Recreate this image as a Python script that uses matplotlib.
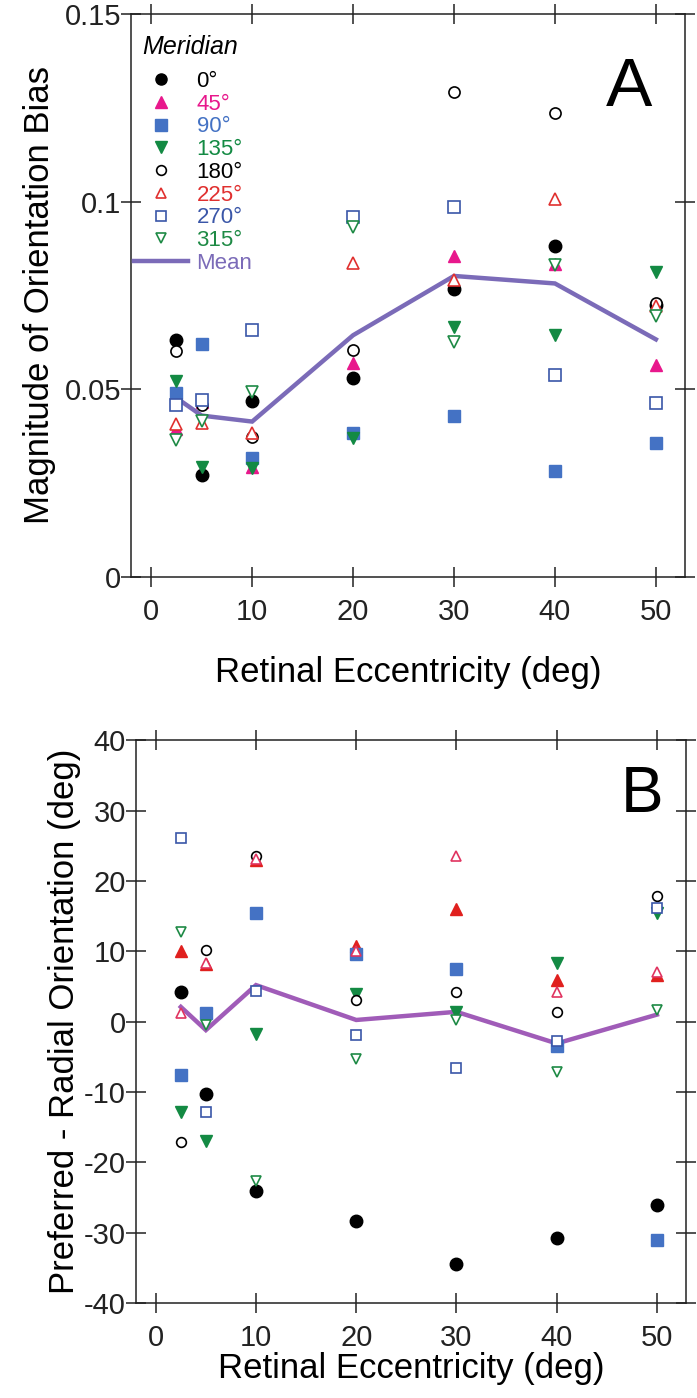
import numpy as np
import matplotlib.pyplot as plt
from matplotlib.lines import Line2D

plt.rcParams['font.family'] = ['Liberation Sans Narrow', 'Liberation Sans', 'DejaVu Sans']
plt.rcParams['axes.unicode_minus'] = False

ecc = [2.5, 5, 10, 20, 30, 40, 50]
meridians = ['0°', '45°', '90°', '135°', '180°', '225°', '270°', '315°']

# magnitude of orientation bias (panel A)
mag_0 = [0.0631, 0.0272, 0.0470, 0.0529, 0.0767, 0.0882, 0.0725]
mag_45 = [0.0395, 0.0465, 0.0292, 0.0569, 0.0856, 0.0835, 0.0565]
mag_90 = [0.0489, 0.0622, 0.0316, 0.0383, 0.0429, 0.0283, 0.0356]
mag_135 = [0.0523, 0.0294, 0.0289, 0.0369, 0.0667, 0.0644, 0.0813]
mag_180 = [0.0602, 0.0458, 0.0372, 0.0605, 0.1292, 0.1237, 0.0730]
mag_225 = [0.0407, 0.0411, 0.0384, 0.0837, 0.0791, 0.1008, 0.0722]
mag_270 = [0.0458, 0.0471, 0.0658, 0.0958, 0.0986, 0.0538, 0.0464]
mag_315 = [0.0365, 0.0416, 0.0492, 0.0933, 0.0627, 0.0831, 0.0695]
mag_mean = [0.0477, 0.0430, 0.0414, 0.0644, 0.0802, 0.0782, 0.0633]

# preferred - radial orientation (panel B)
ori_0 = [4.2, -10.3, -24.1, -28.4, -34.5, -30.7, -26.1]
ori_45 = [10.1, 8.2, 23.0, 10.8, 16.0, 5.9, 6.6]
ori_90 = [-7.6, 1.3, 15.5, 9.6, 7.45, -3.5, -31.1]
ori_135 = [-12.8, -17.0, -1.75, 3.9, 1.4, 8.3, 15.4]
ori_180 = [-17.1, 10.2, 23.6, 3.1, 4.2, 1.4, 17.9]
ori_225 = [1.3, 8.4, 23.1, 10.1, 23.5, 4.2, 7.1]
ori_270 = [26.1, -12.8, 4.3, -1.9, -6.6, -2.75, 16.1]
ori_315 = [12.8, -0.5, -22.6, -5.3, 0.24, -7.1, 1.6]
ori_mean = [2.1, -1.2, 5.2, 0.24, 1.4, -3.1, 1.0]

yticks_a = [0, 0.05, 0.1, 0.15]
yticklabels_a = ['0', '0.05', '0.1', '0.15']
yticks_b = [-40, -30, -20, -10, 0, 10, 20, 30, 40]
xticks = [0, 10, 20, 30, 40, 50]

markers = ['o', '^', 's', 'v', 'o', '^', 's', 'v']
filled = [True, True, True, True, False, False, False, False]
colors_a = ['black', '#E8188C', '#4472C4', '#138A43', 'black', '#E0302F', '#3A56A8', '#1E8A45']
colors_b = ['black', '#E0201E', '#4472C4', '#138A43', 'black', '#E03460', '#3A56A8', '#1E8A45']
mean_a_color = '#7B6BB8'
mean_b_color = '#A05CB8'


def draw(ax, series, colors, mean, mean_color, ms_f, ms_o):
    ax.plot(ecc, mean, color=mean_color, lw=3.2, zorder=1.5, solid_joinstyle='miter')
    for vals, mk, fl, col in zip(series, markers, filled, colors):
        if fl:
            ax.plot(ecc, vals, ls='none', marker=mk, ms=ms_f, mfc=col, mec=col, zorder=2)
        else:
            ax.plot(ecc, vals, ls='none', marker=mk, ms=ms_o, mfc='white', mec=col,
                    mew=1.2, zorder=2)


def style(ax, xpad):
    ax.set_xlim(-2, 52.9)
    ax.set_xticks(xticks)
    ax.tick_params(direction='inout', length=14, width=1.1, top=True, right=True,
                   labelsize=21, colors='#222222')
    ax.tick_params(axis='x', pad=8)
    ax.tick_params(axis='y', pad=0)
    for s in ax.spines.values():
        s.set_linewidth(1.1)
        s.set_color('#222222')
    ax.set_xlabel('Retinal Eccentricity (deg)', fontsize=25, labelpad=xpad)


fig = plt.figure(figsize=(6.97, 13.98), dpi=100)
axA = fig.add_axes([0.188, 0.5873, 0.795, 0.4027])
axB = fig.add_axes([0.1947, 0.068, 0.7895, 0.4024])

draw(axA, [mag_0, mag_45, mag_90, mag_135, mag_180, mag_225, mag_270, mag_315],
     colors_a, mag_mean, mean_a_color, 9, 8)
style(axA, 22)
axA.set_ylim(0, 0.15)
axA.set_yticks(yticks_a)
axA.set_yticklabels(yticklabels_a)
axA.set_ylabel('Magnitude of Orientation Bias', fontsize=25, labelpad=6)
axA.text(0.94, 0.925, 'A', transform=axA.transAxes, fontsize=50, ha='right', va='top',
         family='Liberation Sans')

handles = []
for mk, fl, col in zip(markers, filled, colors_a):
    if fl:
        handles.append(Line2D([], [], ls='none', marker=mk, ms=8, mfc=col, mec=col))
    else:
        handles.append(Line2D([], [], ls='none', marker=mk, ms=7, mfc='white', mec=col, mew=1.2))
handles.append(Line2D([], [], color=mean_a_color, lw=3.2))
leg = axA.legend(handles, meridians + ['Mean'], loc='upper left', bbox_to_anchor=(0.0, 0.905),
                 frameon=False, prop={'family': 'Liberation Sans', 'size': 16},
                 handlelength=2.4, handletextpad=0.4, labelspacing=0.08,
                 borderaxespad=0, borderpad=0.15)
for t, c in zip(leg.get_texts(), colors_a + [mean_a_color]):
    t.set_color(c)
axA.text(0.02, 0.941, 'Meridian', transform=axA.transAxes, fontsize=18, style='italic',
         ha='left', va='center', family='Liberation Sans')

draw(axB, [ori_0, ori_45, ori_90, ori_135, ori_180, ori_225, ori_270, ori_315],
     colors_b, ori_mean, mean_b_color, 9, 7)
style(axB, 0)
axB.set_ylim(-40, 40)
axB.set_yticks(yticks_b)
axB.set_yticklabels([str(v) for v in yticks_b])
axB.set_ylabel('Preferred - Radial Orientation (deg)', fontsize=25, labelpad=2)
axB.text(0.958, 0.956, 'B', transform=axB.transAxes, fontsize=46, ha='right', va='top',
         family='Liberation Sans')

fig.savefig('out.png', dpi=100)
